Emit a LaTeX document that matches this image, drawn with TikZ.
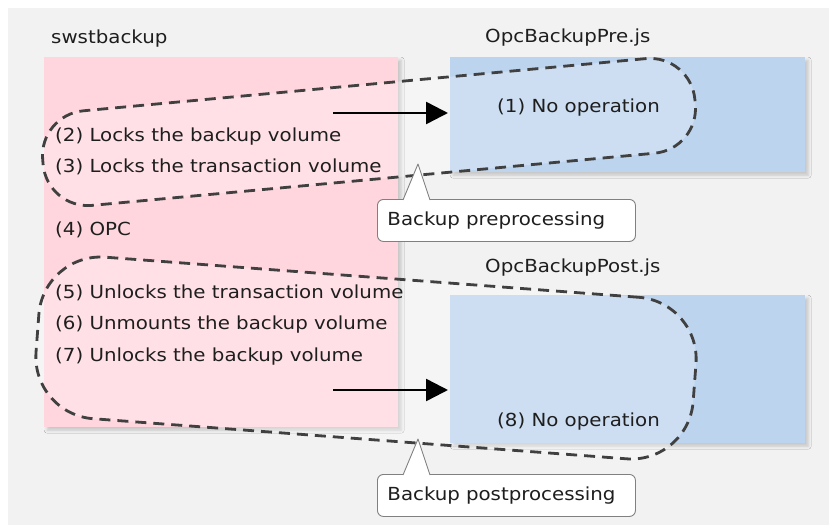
\documentclass[tikz,border=0pt]{standalone}
\usepackage{fontspec}
\setmainfont{DejaVu Sans}[FakeStretch=1.1]
\usetikzlibrary{arrows.meta,shadows.blur}

\begin{document}
\begin{tikzpicture}[x=1pt, y=-1pt,
  txt/.style={anchor=west, inner sep=0pt, text=inkgray, font=\fontsize{18}{21}\selectfont},
  box/.style={anchor=north west, inner sep=0pt,
    blur shadow={shadow xshift=3pt, shadow yshift=-3pt, shadow blur radius=3pt, shadow opacity=18}},
  dashloop/.style={draw=dashgray, line width=2.8pt, dash pattern=on 11pt off 7pt,
    fill=white, fill opacity=0.25, inner sep=0pt},
  flow/.style={line width=2.5pt, -{Triangle[length=22pt,width=22pt]}, shorten >=2pt},
  note/.style={anchor=north west, draw=calloutgray, fill=white, line width=0.9pt,
    rounded corners=6pt, text width=238pt, inner xsep=10pt, inner ysep=0pt,
    minimum height=42pt, text=inkgray, font=\fontsize{18}{21}\selectfont},
  pointer/.style={draw=calloutgray, fill=white, line width=0.9pt, line join=round}
]

% Define colors
\definecolor{bggray}{RGB}{242,242,242}
\definecolor{procpink}{RGB}{255,214,222}
\definecolor{scriptblue}{RGB}{189,212,238}
\definecolor{dashgray}{RGB}{64,64,64}
\definecolor{inkgray}{RGB}{30,30,30}
\definecolor{calloutgray}{RGB}{128,128,128}

% Canvas
\useasboundingbox (0,0) rectangle (829,527);
\fill[bggray] (8,8) rectangle (829,525);

% Boxes
\node[box, fill=procpink, minimum width=354pt, minimum height=370pt] (swst) at (44,57) {};
\node[box, fill=scriptblue, minimum width=355pt, minimum height=115pt] (pre) at (450,57) {};
\node[box, fill=scriptblue, minimum width=355pt, minimum height=148pt] (post) at (450,295) {};

% Titles
\node[txt] (swsttitle) at (51,39) {swstbackup};
\node[txt] (pretitle) at (485,38) {OpcBackupPre.js};
\node[txt] (posttitle) at (485,268) {OpcBackupPost.js};

% Dashed groups
\node[dashloop, minimum width=655pt, minimum height=95pt, rounded corners=45pt, rotate=5.3] (preloop) at (369,132) {};
\node[dashloop, minimum width=659pt, minimum height=162pt, rounded corners=62pt, rotate=-4.3] (postloop) at (366,358) {};

% Arrows
\coordinate (prefrom) at (333,113);
\coordinate (postfrom) at (333,390);
\draw[flow] (prefrom) -- (prefrom -| pre.west);
\draw[flow] (postfrom) -- (postfrom -| post.west);

% Steps
\foreach \y/\n/\what in {137/2/{Locks the backup volume},167/3/{Locks the transaction volume},230/4/{OPC},293/5/{Unlocks the transaction volume},325/6/{Unmounts the backup volume},357/7/{Unlocks the backup volume}} {
  \node[txt] (swstep\n) at (55,\y) {(\n) \what};
}
\node[txt] (preop) at (497,108) {(1) No operation};
\node[txt] (postop) at (497,422) {(8) No operation};

% Callouts
\node[note] (prenote) at (377,199) {Backup preprocessing};
\coordinate (pretip) at (418,164);
\filldraw[pointer] ([xshift=26pt,yshift=-1pt]prenote.north west) -- (pretip) -- ([xshift=53pt,yshift=-1pt]prenote.north west);

\node[note] (postnote) at (377,474) {Backup postprocessing};
\coordinate (posttip) at (418,439);
\filldraw[pointer] ([xshift=26pt,yshift=-1pt]postnote.north west) -- (posttip) -- ([xshift=53pt,yshift=-1pt]postnote.north west);

\end{tikzpicture}
\end{document}
